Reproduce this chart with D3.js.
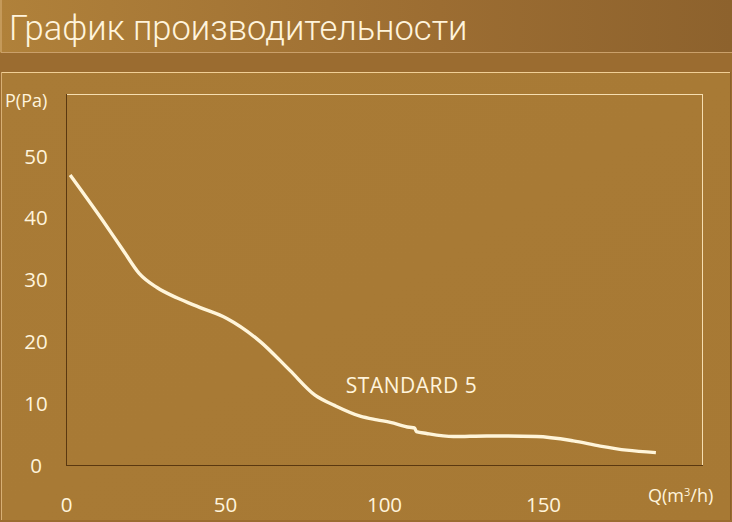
<!DOCTYPE html>
<html><head><meta charset="utf-8">
<script src="https://cdn.jsdelivr.net/npm/d3@7"></script>
<style>html,body{margin:0;padding:0;background:#a0722f;}svg{display:block;}</style>
</head><body>
<script>
const title = "График производительности";
const seriesName = "STANDARD 5";
const xTicks = [0, 50, 100, 150];
const yTicks = [0, 10, 20, 30, 40, 50];
const flowQ = [1.3, 11.6, 18, 23, 28.6, 35, 42, 50.6, 61, 70.4, 78.3, 84.6, 92.5, 97.8, 102, 108, 109.6, 110.2, 113.4, 121.8, 132.3, 148, 159.5, 168, 176.3, 185.5];
const pressureP = [46.9, 39.5, 34.7, 31, 28.7, 27, 25.5, 23.7, 20, 15.3, 11.3, 9.6, 7.9, 7.3, 6.9, 6.1, 6.0, 5.4, 5.1, 4.6, 4.7, 4.6, 3.9, 3.06, 2.4, 2.0];

const W = 732, H = 522;
const svg = d3.select("body").append("svg").attr("width", W).attr("height", H);
const defs = svg.append("defs");
const g1 = defs.append("linearGradient").attr("id", "tg").attr("x1", 0).attr("x2", 1).attr("y1", 0).attr("y2", 0);
g1.append("stop").attr("offset", 0).attr("stop-color", "#b0813a");
g1.append("stop").attr("offset", 0.6).attr("stop-color", "#9c6d32");
g1.append("stop").attr("offset", 1).attr("stop-color", "#8d622d");
const g2 = defs.append("linearGradient").attr("id", "bg").attr("x1", 0).attr("x2", 1).attr("y1", 0).attr("y2", 1);
g2.append("stop").attr("offset", 0).attr("stop-color", "#a97b36");
g2.append("stop").attr("offset", 1).attr("stop-color", "#a77934");

svg.append("rect").attr("width", W).attr("height", H).attr("fill", "#9b6c30");
svg.append("rect").attr("x", 0).attr("y", 0).attr("width", W).attr("height", 53).attr("fill", "url(#tg)");
svg.append("line").attr("x1", 1).attr("x2", 1).attr("y1", 0).attr("y2", 52).attr("stroke", "#d9b27a").attr("stroke-width", 1);
svg.append("line").attr("x1", 1).attr("x2", W).attr("y1", 52.5).attr("y2", 52.5).attr("stroke", "#caa06a").attr("stroke-width", 1);
svg.append("text").attr("x", 9).attr("y", 40).text(title)
  .attr("fill", "#fff4dc").attr("font-family", "Roboto").attr("font-weight", 300).attr("font-size", 34.5);
svg.append("rect").attr("x", 1).attr("y", 72).attr("width", W - 3).attr("height", H - 74).attr("fill", "url(#bg)");
svg.append("line").attr("x1", 1).attr("x2", W - 2).attr("y1", 72.5).attr("y2", 72.5).attr("stroke", "#f1cf95").attr("stroke-width", 1);
svg.append("line").attr("x1", 1.5).attr("x2", 1.5).attr("y1", 72).attr("y2", H - 2).attr("stroke", "#d8b075").attr("stroke-width", 1);
svg.append("line").attr("x1", W - 1.5).attr("x2", W - 1.5).attr("y1", 72).attr("y2", H - 2).attr("stroke", "#8c602b").attr("stroke-width", 1);

const x = d3.scaleLinear().domain([0, 200]).range([66, 702]);
const y = d3.scaleLinear().domain([0, 60]).range([465, 94]);

svg.append("line").attr("x1", x(0)).attr("x2", x(200)).attr("y1", y(60) + 0.5).attr("y2", y(60) + 0.5).attr("stroke", "#f6deb0");
svg.append("line").attr("x1", x(200) + 0.5).attr("x2", x(200) + 0.5).attr("y1", y(60)).attr("y2", y(0)).attr("stroke", "#f6deb0");
svg.append("line").attr("x1", x(0) + 0.5).attr("x2", x(0) + 0.5).attr("y1", y(60)).attr("y2", y(0)).attr("stroke", "#5a3810");
svg.append("line").attr("x1", x(0)).attr("x2", x(200) + 1).attr("y1", y(0) + 0.5).attr("y2", y(0) + 0.5).attr("stroke", "#5a3810");

const font = "'Open Sans', 'Noto Sans', sans-serif";
const txt = "#fff4dc";
const xAxis = d3.axisBottom(x).tickValues(xTicks).tickSize(0).tickPadding(0);
const xa = svg.append("g").attr("transform", "translate(0,497)").call(xAxis);
xa.select(".domain").remove();
xa.selectAll("text").attr("fill", txt).attr("font-family", font).attr("font-size", 20.5).attr("dy", "0.35em").attr("y", 8);
const yAxis = d3.axisLeft(y).tickValues(yTicks).tickSize(0).tickPadding(0);
const ya = svg.append("g").attr("transform", "translate(48,0)").call(yAxis);
ya.select(".domain").remove();
ya.selectAll("text").attr("fill", txt).attr("font-family", font).attr("font-size", 20.5).attr("text-anchor", "middle").attr("x", -12).attr("dy", "0.35em");

svg.append("text").attr("x", 5).attr("y", 107).text("P(Pa)").attr("fill", txt).attr("font-family", font).attr("font-size", 18);
const ql = svg.append("text").attr("x", 648).attr("y", 502).attr("fill", txt).attr("font-family", font).attr("font-size", 18);
ql.append("tspan").text("Q(m");
ql.append("tspan").text("3").attr("font-size", 11).attr("dy", -6);
ql.append("tspan").text("/h)").attr("dy", 6);

const data = flowQ.map((q, i) => [q, pressureP[i]]);
const line = d3.line().x(d => x(d[0])).y(d => y(d[1])).curve(d3.curveMonotoneX);
svg.append("path").datum(data).attr("d", line).attr("fill", "none").attr("stroke", "#fff5da").attr("stroke-width", 3.4).attr("stroke-linecap", "butt").attr("stroke-linejoin", "round");

svg.append("text").attr("x", x(88)).attr("y", 393).text(seriesName).attr("fill", txt).attr("font-family", font).attr("font-size", 21).attr("textLength", 131);
</script>
</body></html>
